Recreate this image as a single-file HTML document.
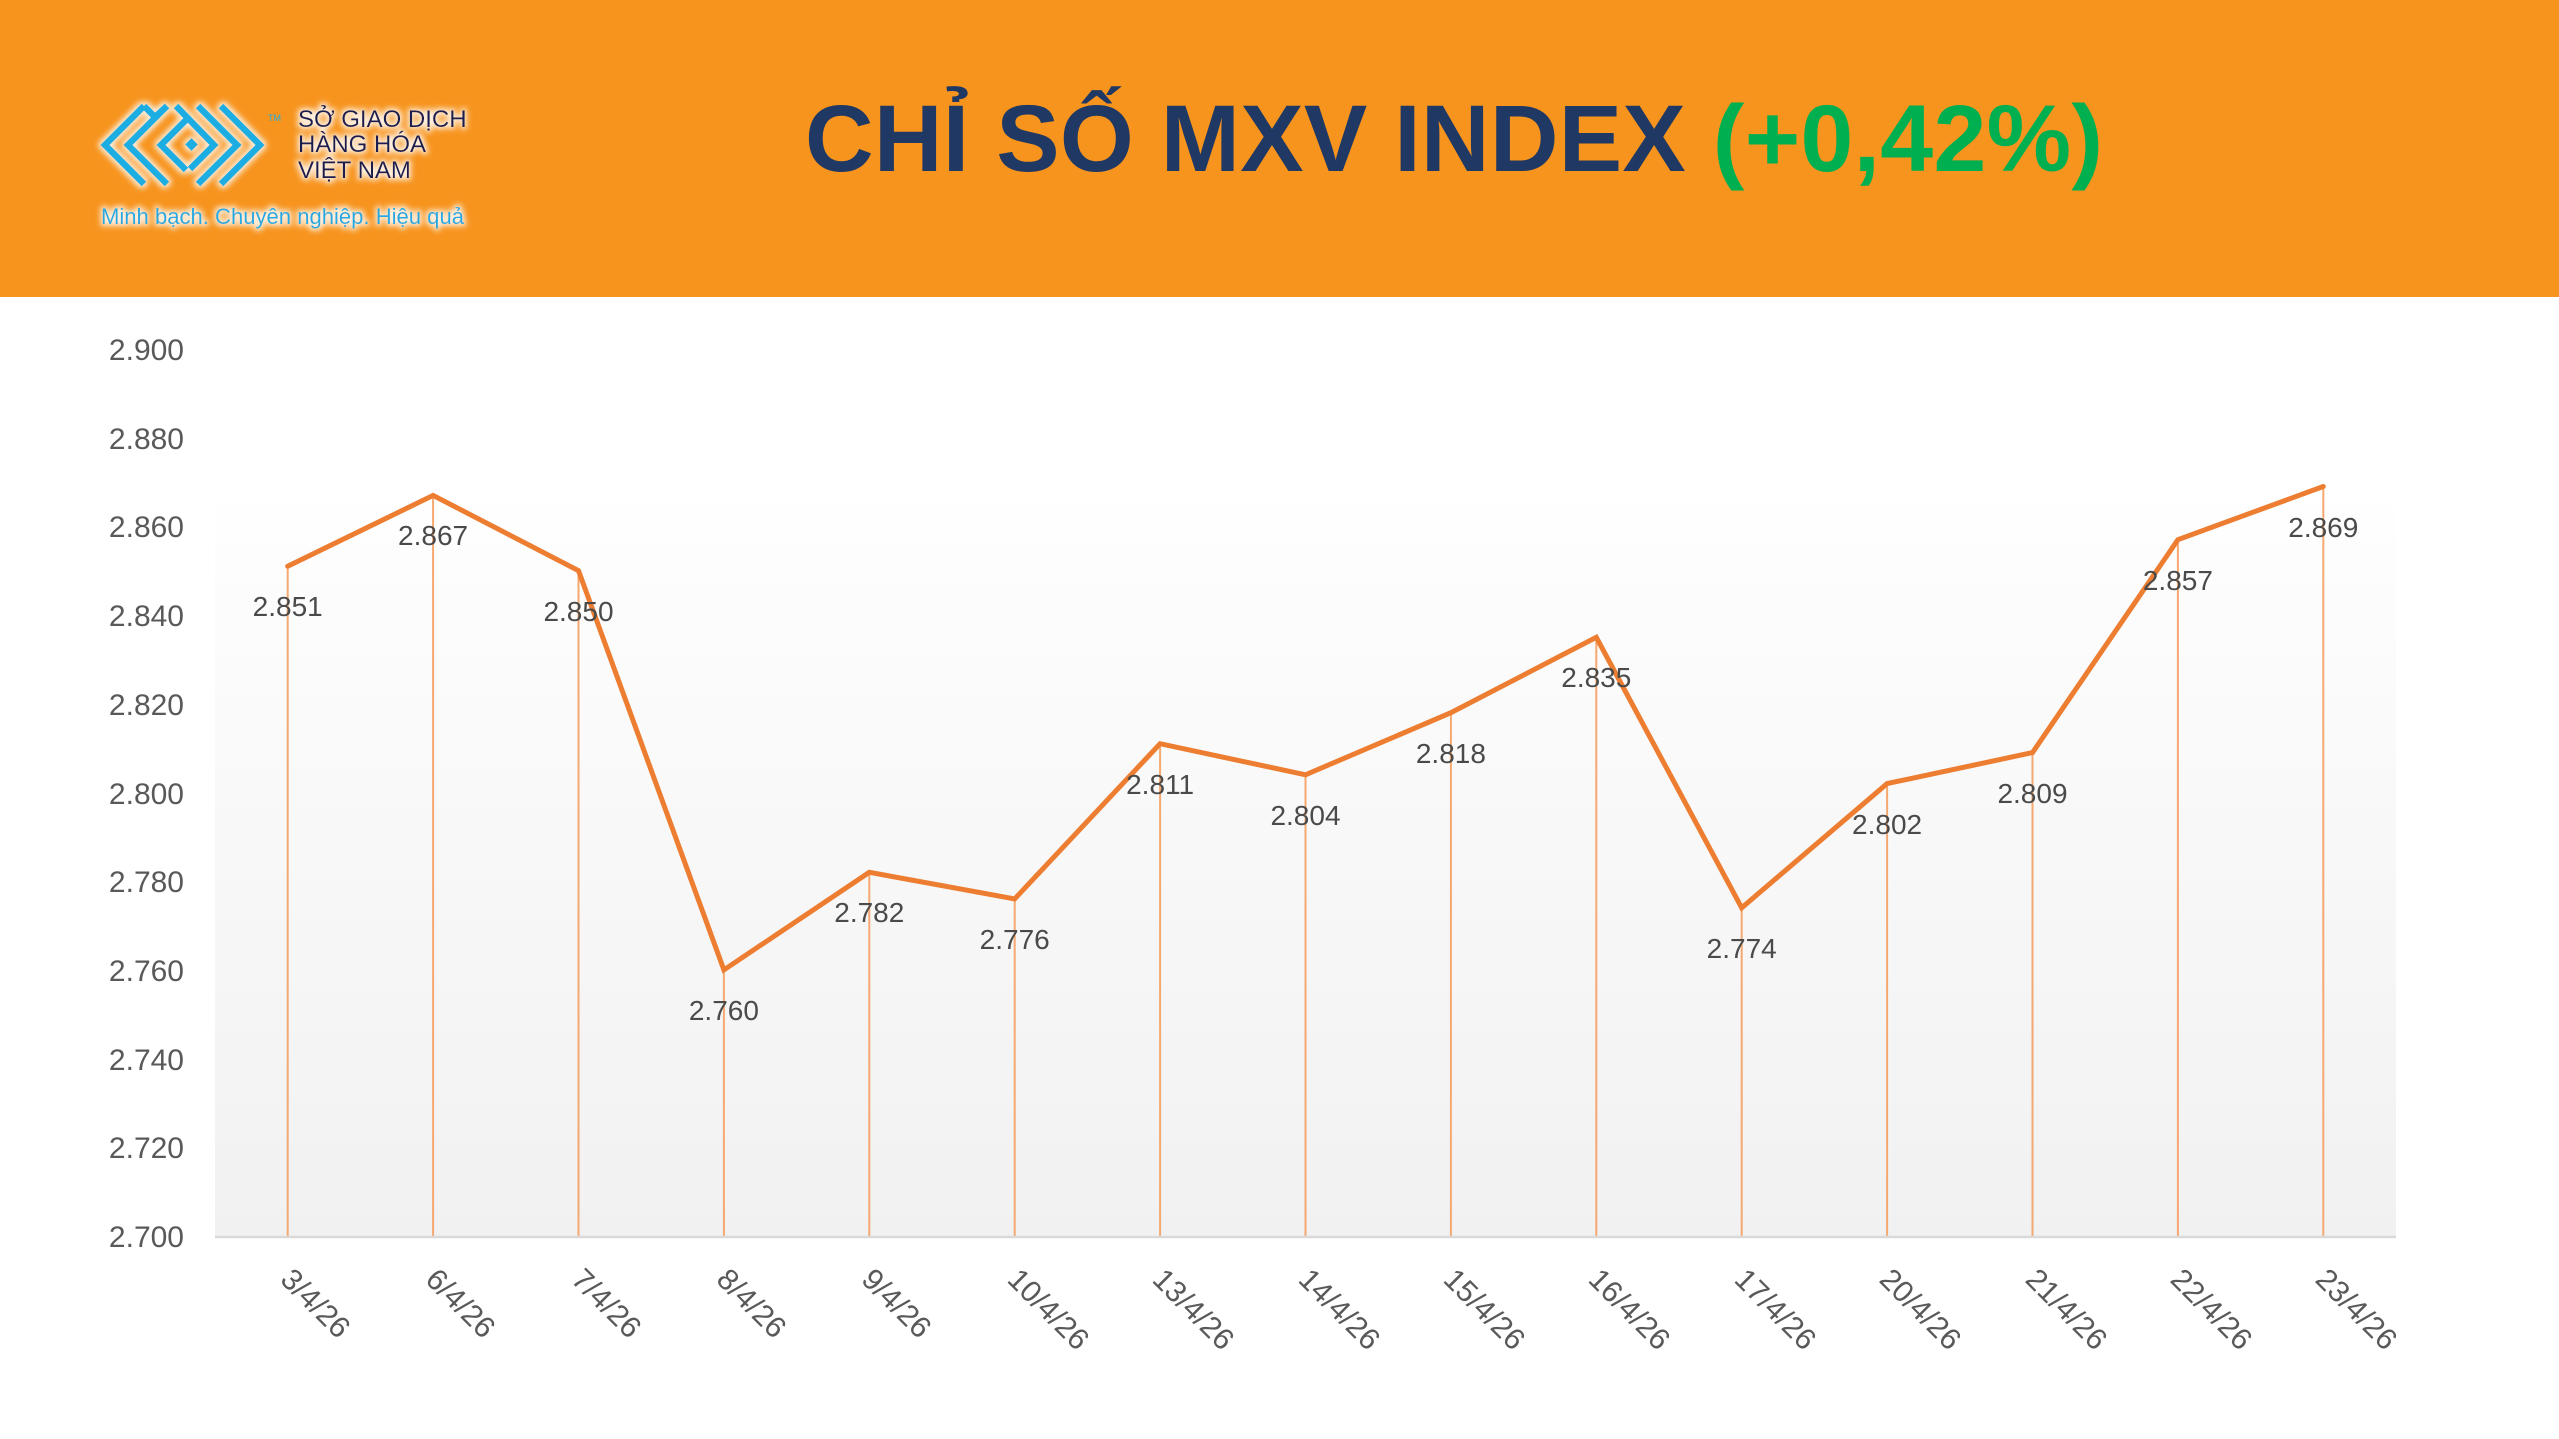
<!DOCTYPE html>
<html>
<head>
<meta charset="utf-8">
<style>
html,body{margin:0;padding:0;background:#ffffff;}
body{width:2559px;height:1439px;overflow:hidden;}
svg{display:block;}
</style>
</head>
<body>
<svg width="2559" height="1439" viewBox="0 0 2559 1439" xmlns="http://www.w3.org/2000/svg">
<defs>
  <linearGradient id="pg" x1="0" y1="0" x2="0" y2="1">
    <stop offset="0" stop-color="#fefefe"/>
    <stop offset="1" stop-color="#f1f1f1"/>
  </linearGradient>
  <filter id="glow" x="-20%" y="-30%" width="140%" height="160%">
    <feMorphology in="SourceAlpha" operator="dilate" radius="2" result="d"/>
    <feGaussianBlur in="d" stdDeviation="3" result="b"/>
    <feFlood flood-color="#ffffff" flood-opacity="0.85"/>
    <feComposite in2="b" operator="in" result="g"/>
    <feMerge><feMergeNode in="g"/><feMergeNode in="SourceGraphic"/></feMerge>
  </filter>
</defs>

<!-- Header -->
<rect x="0" y="0" width="2559" height="297" fill="#F7941E"/>

<!-- Logo icon -->
<g filter="url(#glow)" fill="none" stroke="#1EAEE3" stroke-width="6.5" stroke-linejoin="miter" stroke-linecap="butt">
  <polyline points="144,106 105,145 144,184"/>
  <polyline points="167,106 128,145 167,184"/>
  <polyline points="190,116 161,145 186,170"/>
  <polyline points="198,106 237,145 198,184"/>
  <polyline points="221,106 260,145 221,184"/>
  <polyline points="176,106 214,145 190,169"/>
  <polyline points="144,106 155,117 167,106"/>
  <rect x="187" y="140" width="9" height="9" fill="#1EAEE3" stroke="none" transform="rotate(45 191.5 144.5)"/>
</g>
<text x="268" y="121" font-family="Liberation Sans, sans-serif" font-size="9" fill="#1EAEE3">TM</text>

<!-- Logo text -->
<g filter="url(#glow)" font-family="Liberation Sans, sans-serif" font-size="24" fill="#1B1D4F">
  <text x="298" y="127">SỞ GIAO DỊCH</text>
  <text x="298" y="152">HÀNG HÓA</text>
  <text x="298" y="178">VIỆT NAM</text>
</g>
<g filter="url(#glow)">
  <text x="101" y="224" font-family="Liberation Sans, sans-serif" font-size="22" fill="#26A9E0" textLength="363" lengthAdjust="spacingAndGlyphs">Minh bạch. Chuyên nghiệp. Hiệu quả</text>
</g>

<!-- Title -->
<text x="805" y="171" font-family="Liberation Sans, sans-serif" font-weight="bold" font-size="95" fill="#1F3864" textLength="1298" lengthAdjust="spacing">CHỈ SỐ MXV INDEX <tspan fill="#00B050">(+0,42%)</tspan></text>

<!-- Plot area -->
<rect x="215" y="506" width="2181" height="730" fill="url(#pg)"/>

<!-- Y axis labels -->
<g font-family="Liberation Sans, sans-serif" font-size="30" fill="#595959" text-anchor="end">
  <text x="184" y="360">2.900</text>
  <text x="184" y="449">2.880</text>
  <text x="184" y="537">2.860</text>
  <text x="184" y="626">2.840</text>
  <text x="184" y="715">2.820</text>
  <text x="184" y="804">2.800</text>
  <text x="184" y="892">2.780</text>
  <text x="184" y="981">2.760</text>
  <text x="184" y="1070">2.740</text>
  <text x="184" y="1158">2.720</text>
  <text x="184" y="1247">2.700</text>
</g>

<!-- Drop lines -->
<g stroke="#F5A870" stroke-width="2">
  <line x1="287.7" y1="566.3" x2="287.7" y2="1236"/>
  <line x1="433.1" y1="495.4" x2="433.1" y2="1236"/>
  <line x1="578.5" y1="570.7" x2="578.5" y2="1236"/>
  <line x1="723.9" y1="969.9" x2="723.9" y2="1236"/>
  <line x1="869.3" y1="872.3" x2="869.3" y2="1236"/>
  <line x1="1014.7" y1="898.9" x2="1014.7" y2="1236"/>
  <line x1="1160.1" y1="743.7" x2="1160.1" y2="1236"/>
  <line x1="1305.5" y1="774.8" x2="1305.5" y2="1236"/>
  <line x1="1450.9" y1="712.7" x2="1450.9" y2="1236"/>
  <line x1="1596.3" y1="637.3" x2="1596.3" y2="1236"/>
  <line x1="1741.7" y1="907.8" x2="1741.7" y2="1236"/>
  <line x1="1887.1" y1="783.6" x2="1887.1" y2="1236"/>
  <line x1="2032.5" y1="752.6" x2="2032.5" y2="1236"/>
  <line x1="2177.9" y1="539.7" x2="2177.9" y2="1236"/>
  <line x1="2323.3" y1="486.5" x2="2323.3" y2="1236"/>
</g>

<!-- Axis line -->
<line x1="215" y1="1237" x2="2396" y2="1237" stroke="#D9D9D9" stroke-width="2.5"/>

<!-- Series line -->
<polyline fill="none" stroke="#ED7D31" stroke-width="5" stroke-linejoin="miter" stroke-linecap="round"
  points="287.7,566.3 433.1,495.4 578.5,570.7 723.9,969.9 869.3,872.3 1014.7,898.9 1160.1,743.7 1305.5,774.8 1450.9,712.7 1596.3,637.3 1741.7,907.8 1887.1,783.6 2032.5,752.6 2177.9,539.7 2323.3,486.5"/>

<!-- Data labels -->
<g font-family="Liberation Sans, sans-serif" font-size="28" fill="#4a4a4a" text-anchor="middle">
  <text x="287.7" y="616">2.851</text>
  <text x="433.1" y="545">2.867</text>
  <text x="578.5" y="621">2.850</text>
  <text x="723.9" y="1020">2.760</text>
  <text x="869.3" y="922">2.782</text>
  <text x="1014.7" y="949">2.776</text>
  <text x="1160.1" y="794">2.811</text>
  <text x="1305.5" y="825">2.804</text>
  <text x="1450.9" y="763">2.818</text>
  <text x="1596.3" y="687">2.835</text>
  <text x="1741.7" y="958">2.774</text>
  <text x="1887.1" y="834">2.802</text>
  <text x="2032.5" y="803">2.809</text>
  <text x="2177.9" y="590">2.857</text>
  <text x="2323.3" y="537">2.869</text>
</g>

<!-- X axis labels -->
<g font-family="Liberation Sans, sans-serif" font-size="30" fill="#595959">
  <text x="279" y="1281" transform="rotate(45 279 1281)">3/4/26</text>
  <text x="424" y="1281" transform="rotate(45 424 1281)">6/4/26</text>
  <text x="570" y="1281" transform="rotate(45 570 1281)">7/4/26</text>
  <text x="715" y="1281" transform="rotate(45 715 1281)">8/4/26</text>
  <text x="860" y="1281" transform="rotate(45 860 1281)">9/4/26</text>
  <text x="1006" y="1281" transform="rotate(45 1006 1281)">10/4/26</text>
  <text x="1151" y="1281" transform="rotate(45 1151 1281)">13/4/26</text>
  <text x="1297" y="1281" transform="rotate(45 1297 1281)">14/4/26</text>
  <text x="1442" y="1281" transform="rotate(45 1442 1281)">15/4/26</text>
  <text x="1587" y="1281" transform="rotate(45 1587 1281)">16/4/26</text>
  <text x="1733" y="1281" transform="rotate(45 1733 1281)">17/4/26</text>
  <text x="1878" y="1281" transform="rotate(45 1878 1281)">20/4/26</text>
  <text x="2024" y="1281" transform="rotate(45 2024 1281)">21/4/26</text>
  <text x="2169" y="1281" transform="rotate(45 2169 1281)">22/4/26</text>
  <text x="2314" y="1281" transform="rotate(45 2314 1281)">23/4/26</text>
</g>
</svg>
</body>
</html>
